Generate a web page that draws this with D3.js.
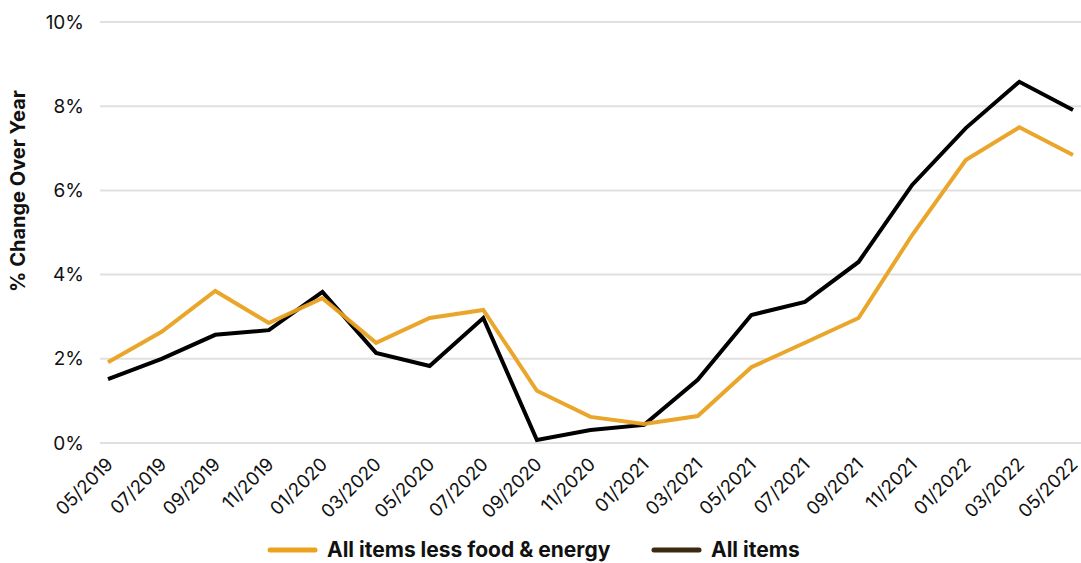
<!DOCTYPE html>
<html><head><meta charset="utf-8">
<script src="https://cdn.jsdelivr.net/npm/d3@7"></script>
<style>body{margin:0;background:#fff}svg{display:block}</style>
</head><body><svg id="c" width="1081" height="563"></svg>
<script>
const categories = ["05/2019","07/2019","09/2019","11/2019","01/2020","03/2020","05/2020","07/2020","09/2020","11/2020","01/2021","03/2021","05/2021","07/2021","09/2021","11/2021","01/2022","03/2022","05/2022"];
const coreValues = [1.92,2.64,3.61,2.85,3.44,2.38,2.97,3.16,1.24,0.62,0.45,0.64,1.80,2.38,2.97,4.94,6.72,7.50,6.84];
const allValues  = [1.52,2.00,2.57,2.68,3.59,2.14,1.83,2.97,0.07,0.31,0.43,1.50,3.04,3.35,4.30,6.13,7.48,8.58,7.91];
const yTicks = [0,2,4,6,8,10];
const seriesNames = ["All items less food & energy","All items"];

const svg = d3.select("#c");
const font = "Inter, 'Open Sans', sans-serif";
const x = d3.scalePoint().domain(categories).range([108,1073]);
const y = d3.scaleLinear().domain([0,10]).range([443,22]);

// gridlines
svg.append("g").selectAll("line").data(yTicks).join("line")
  .attr("x1",100).attr("x2",1081)
  .attr("y1",d=>y(d)).attr("y2",d=>y(d))
  .attr("stroke","#e0e0e0").attr("stroke-width",2);

// y axis labels
const ya = svg.append("g").attr("transform","translate(84,0)")
  .call(d3.axisLeft(y).tickValues(yTicks).tickFormat(d=>d+"%").tickSize(0).tickPadding(0));
ya.select(".domain").remove();
ya.selectAll("text").attr("font-family",font).attr("font-size",19).attr("fill","#111");

// x axis labels
const xa = svg.append("g").attr("transform","translate(0,452)")
  .call(d3.axisBottom(x).tickSize(0).tickPadding(0));
xa.select(".domain").remove();
xa.selectAll("text").attr("font-family",font).attr("font-size",18.5).attr("fill","#111")
  .attr("text-anchor","end").attr("dy","0.35em")
  .attr("transform","translate(1,9) rotate(-45)");

// y title
svg.append("text").attr("transform","translate(25,191) rotate(-90)")
  .attr("text-anchor","middle").attr("font-family",font).attr("font-weight",700)
  .attr("font-size",20).attr("fill","#111").text("% Change Over Year");

const line = d3.line().x((d,i)=>x(categories[i])).y(d=>y(d));
svg.append("path").datum(allValues).attr("d",line).attr("fill","none")
  .attr("stroke","#000").attr("stroke-width",4).attr("stroke-linejoin","miter");
svg.append("path").datum(coreValues).attr("d",line).attr("fill","none")
  .attr("stroke","#E9A11F").attr("stroke-width",4).attr("stroke-linejoin","miter")
  .attr("opacity",0.95);

// legend
const leg = [{name:seriesNames[0],color:"#EBA21E",x:268},{name:seriesNames[1],color:"#3b2a10",x:652}];
const lg = svg.append("g").selectAll("g").data(leg).join("g").attr("transform",d=>`translate(${d.x},550)`);
lg.append("line").attr("x1",2).attr("x2",47).attr("stroke",d=>d.color).attr("stroke-width",5).attr("stroke-linecap","round");
lg.append("text").attr("x",59).attr("dy","0.35em").attr("font-family",font).attr("font-weight",700)
  .attr("font-size",21).attr("fill","#111").text(d=>d.name);
</script></body></html>
